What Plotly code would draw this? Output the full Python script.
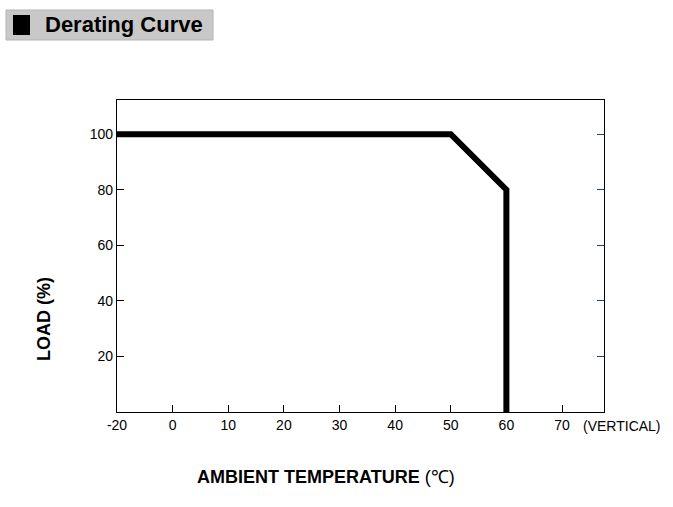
import plotly.graph_objects as go

# Derating curve data
temp = [-20, 50, 60, 60]
load = [100, 100, 80, 0]
x_ticks = [-20, 0, 10, 20, 30, 40, 50, 60, 70]
y_ticks = [20, 40, 60, 80, 100]


# the original axis squeezes -20..0 into one 10-degree step
def xpos(t):
    return t if t >= 0 else t / 2


W, H = 673, 507
L, R, T, B = 117, 69, 100, 95
pw, ph = W - L - R, H - T - B


def px(x):
    return (x - L) / pw


def py(y):
    return (H - B - y) / ph


font = "Liberation Sans Narrow, Liberation Sans, Arial, sans-serif"

fig = go.Figure()
fig.add_trace(go.Scatter(x=[xpos(t) for t in temp], y=load, mode="lines",
                         line=dict(color="black", width=6), hoverinfo="skip"))
# dummy trace for right-side tick marks
fig.add_trace(go.Scatter(x=[None], y=[None], yaxis="y2", showlegend=False))

fig.update_layout(
    width=W, height=H,
    margin=dict(l=L, r=R, t=T, b=B),
    paper_bgcolor="white", plot_bgcolor="white",
    showlegend=False,
    font=dict(family=font, size=14, color="black"),
    xaxis=dict(range=[-10, 77.55], tickvals=[xpos(t) for t in x_ticks],
               ticktext=[str(t) for t in x_ticks], ticks="inside", ticklen=7,
               tickcolor="black", showline=True, linecolor="black", linewidth=1.2,
               mirror=True, showgrid=False, zeroline=False, tickfont=dict(size=14)),
    yaxis=dict(range=[0, 112.3], tickvals=y_ticks, ticks="inside", ticklen=7,
               tickcolor="black", showline=True, linecolor="black", linewidth=1.2,
               mirror=True, showgrid=False, zeroline=False, tickfont=dict(size=14)),
    yaxis2=dict(range=[0, 112.3], tickvals=y_ticks, overlaying="y", side="right",
                ticks="inside", ticklen=7, tickcolor="#2a3a9a", showticklabels=False,
                showgrid=False, zeroline=False, showline=False),
)

# title box
fig.add_shape(type="rect", xref="paper", yref="paper",
              x0=px(6), x1=px(213), y0=py(40), y1=py(10),
              fillcolor="#c8c8c8", line=dict(color="#b4b4b4", width=1))
fig.add_shape(type="rect", xref="paper", yref="paper",
              x0=px(13), x1=px(30), y0=py(35), y1=py(15),
              fillcolor="black", line=dict(width=0))
fig.add_annotation(xref="paper", yref="paper", x=px(43), y=py(25),
                   xanchor="left", yanchor="middle", showarrow=False,
                   text="<b>Derating Curve</b>", font=dict(size=22, family=font))

fig.add_annotation(xref="paper", yref="paper", x=px(44), y=py(319),
                   xanchor="center", yanchor="middle", textangle=-90, showarrow=False,
                   text="<b>LOAD (%)</b>", font=dict(size=18, family=font))
fig.add_annotation(xref="paper", yref="paper", x=px(326), y=py(477),
                   xanchor="center", yanchor="middle", showarrow=False,
                   text="<b>AMBIENT TEMPERATURE</b> (℃)", font=dict(size=18, family=font))
fig.add_annotation(xref="paper", yref="paper", x=px(581), y=py(426),
                   xanchor="left", yanchor="middle", showarrow=False,
                   text="(VERTICAL)", font=dict(size=14, family=font))

fig.write_html("out.html", config={"displayModeBar": False},
               post_script="document.body.style.margin='0';")
